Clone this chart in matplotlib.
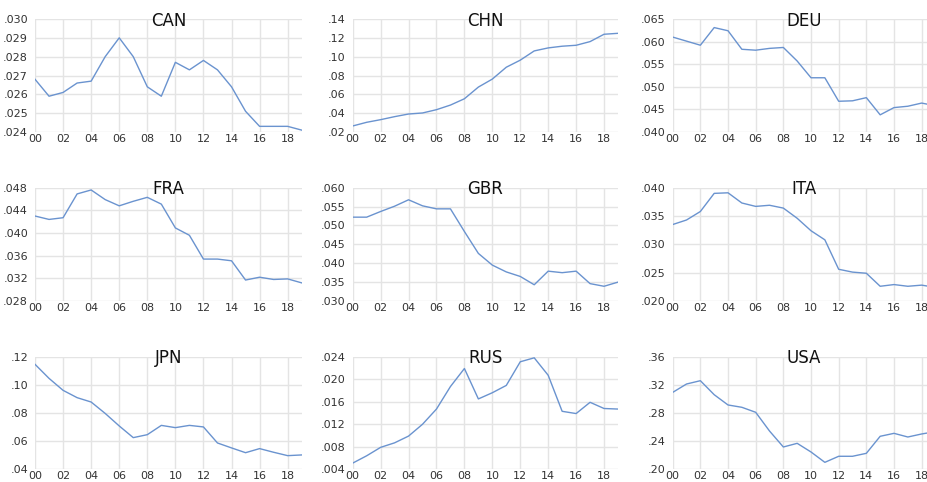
#imports
import numpy as np
import matplotlib
matplotlib.use("Agg")
import matplotlib.pyplot as plt

#dados (2000-2019)
anos = list(range(20))
paises = ["CAN", "CHN", "DEU", "FRA", "GBR", "ITA", "JPN", "RUS", "USA"]

can = [.0268, .0259, .0261, .0266, .0267, .0280, .0290, .0280, .0264, .0259,
       .0277, .0273, .0278, .0273, .0264, .0251, .0243, .0243, .0243, .0241]
chn = [.0264, .0303, .0331, .0363, .0391, .0402, .0437, .0486, .0553, .0677,
       .0762, .0888, .0963, .1061, .1093, .1111, .1121, .1160, .1238, .1248]
deu = [.0610, .0601, .0592, .0631, .0624, .0583, .0581, .0585, .0587, .0557,
       .0520, .0520, .0468, .0469, .0476, .0438, .0454, .0457, .0464, .0458]
fra = [.0430, .0424, .0427, .0469, .0476, .0459, .0448, .0456, .0463, .0451,
       .0409, .0396, .0354, .0354, .0351, .0317, .0322, .0318, .0319, .0312]
gbr = [.0522, .0522, .0537, .0551, .0568, .0552, .0544, .0544, .0484, .0426,
       .0395, .0377, .0365, .0343, .0379, .0375, .0379, .0346, .0339, .0350]
ita = [.0335, .0343, .0358, .0390, .0391, .0373, .0367, .0369, .0364, .0346,
       .0324, .0308, .0256, .0251, .0249, .0226, .0229, .0226, .0228, .0224]
jpn = [.1146, .1046, .0961, .0909, .0878, .0797, .0708, .0625, .0646, .0712,
       .0696, .0712, .0701, .0587, .0552, .0518, .0547, .0521, .0497, .0502]
rus = [.0051, .0064, .0079, .0087, .0099, .0120, .0147, .0187, .0219, .0165,
       .0176, .0189, .0231, .0238, .0207, .0143, .0139, .0159, .0148, .0147]
usa = [.3093, .3212, .3259, .3060, .2914, .2881, .2810, .2544, .2317, .2369,
       .2246, .2099, .2185, .2185, .2227, .2469, .2511, .2459, .2502, .2535]

series = [can, chn, deu, fra, gbr, ita, jpn, rus, usa]

#ticks do eixo y de cada painel
yticks = [
    [.024, .025, .026, .027, .028, .029, .030],
    [.02, .04, .06, .08, .10, .12, .14],
    [.040, .045, .050, .055, .060, .065],
    [.028, .032, .036, .040, .044, .048],
    [.030, .035, .040, .045, .050, .055, .060],
    [.020, .025, .030, .035, .040],
    [.04, .06, .08, .10, .12],
    [.004, .008, .012, .016, .020, .024],
    [.20, .24, .28, .32, .36],
]
casas = [3, 2, 3, 3, 3, 3, 2, 3, 2]
xticks = list(range(0, 19, 2))
xlabels = ["%02d" % a for a in xticks]

W, H = 927, 482
fig = plt.figure(figsize=(W / 100, H / 100), dpi=100)

#posições em pixels (esquerda, topo, base) dos painéis
lefts = [35, 352.7, 672.7]
widths = [266.7, 265.3, 262.8]
tops = [19, 187.7, 356.7]
bottoms = [132, 301, 469.3]

cor = "#6a93cf"
for k, nome in enumerate(paises):
    lin, col = k // 3, k % 3
    ax = fig.add_axes([lefts[col] / W, (H - bottoms[lin]) / H,
                       widths[col] / W, (bottoms[lin] - tops[lin]) / H])
    ax.plot(anos, series[k], color=cor, lw=1.0)
    ax.set_xlim(0, 19)
    yt = yticks[k]
    ax.set_ylim(yt[0], yt[-1])
    ax.set_yticks(yt)
    ax.set_yticklabels([("%.*f" % (casas[k], v))[1:] for v in yt])
    ax.set_xticks(xticks)
    ax.set_xticklabels(xlabels)
    ax.grid(True, color="#e4e4e4", lw=1.0)
    ax.set_axisbelow(True)
    for s in ax.spines.values():
        s.set_visible(False)
    ax.tick_params(length=0, labelsize=8, colors="#333333")
    ax.tick_params(axis="x", pad=1.5)
    ax.tick_params(axis="y", pad=5)
    ax.text(0.5, 0.985, nome, transform=ax.transAxes, ha="center",
            va="center", fontsize=12, color="#111111")

plt.savefig("out.png", dpi=100)
